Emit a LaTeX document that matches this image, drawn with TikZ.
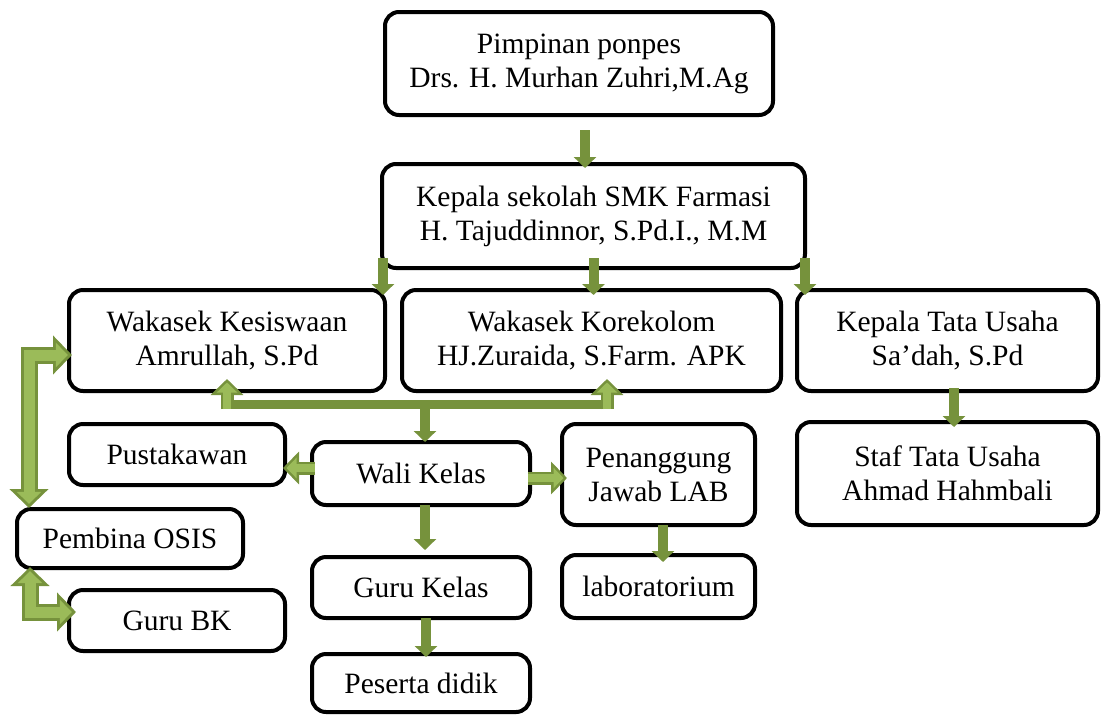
\documentclass[tikz,border=0pt]{standalone}
\usepackage{fontspec}
\setmainfont{Liberation Serif}
\usetikzlibrary{arrows.meta}
\definecolor{olive}{RGB}{118,146,60}
\definecolor{lightolive}{RGB}{155,187,89}

\begin{document}
\begin{tikzpicture}[
  x=1pt, y=-1pt,
  box/.style={draw, line width=4pt, rounded corners=14pt, align=center,
              inner sep=2pt, outer sep=0pt, font=\fontsize{29.5pt}{34pt}\selectfont},
  darr/.style={draw=olive, line width=10pt, -{Triangle[width=22pt,length=11pt]}},
  bar/.style={draw=olive, line width=9pt},
  lout/.style={draw=olive, line width=13pt, -{Triangle[width=32pt,length=16pt]}},
  lin/.style={draw=lightolive, line width=8pt, shorten >=3.5pt,
              -{Triangle[width=20pt,length=10pt]}},
  bentout/.style={draw=olive, line width=17pt,
                  {Triangle[width=38pt,length=19pt]}-{Triangle[width=38pt,length=19pt]}},
  bentin/.style={draw=lightolive, line width=11pt, shorten >=4.2pt, shorten <=4.2pt,
                 {Triangle[width=24pt,length=12pt]}-{Triangle[width=24pt,length=12pt]}}
]
  \useasboundingbox (0,0) rectangle (1105,716);

  % boxes
  \node[box, minimum width=388pt, minimum height=103pt] (pimp) at (579,63.5)
    {Pimpinan ponpes\\Drs. H. Murhan Zuhri,M.Ag};
  \node[box, minimum width=423pt, minimum height=104pt] (kepsek) at (593.5,216)
    {Kepala sekolah SMK Farmasi\\H. Tajuddinnor, S.Pd.I., M.M};
  \node[box, minimum width=316pt, minimum height=101pt] (kesis) at (227,340.5)
    {Wakasek Kesiswaan\\Amrullah, S.Pd};
  \node[box, minimum width=379pt, minimum height=101pt] (kurik) at (591.5,340.5)
    {Wakasek Korekolom\\HJ.Zuraida, S.Farm. APK};
  \node[box, minimum width=301pt, minimum height=101pt] (ktu) at (947.5,340.5)
    {Kepala Tata Usaha\\Sa’dah, S.Pd};
  \node[box, minimum width=216pt, minimum height=61pt] (pustak) at (177,454.5) {Pustakawan};
  \node[box, minimum width=218pt, minimum height=63pt] (wali) at (421,473.5) {Wali Kelas};
  \node[box, minimum width=193pt, minimum height=101pt] (pjlab) at (658.5,474.5)
    {Penanggung\\Jawab LAB};
  \node[box, minimum width=301pt, minimum height=103pt] (staf) at (947.5,473.5)
    {Staf Tata Usaha\\Ahmad Hahmbali};
  \node[box, minimum width=226pt, minimum height=59pt] (osis) at (130,538.5) {Pembina OSIS};
  \node[box, minimum width=218pt, minimum height=61pt] (guru) at (421,587.5) {Guru Kelas};
  \node[box, minimum width=193pt, minimum height=63pt] (lab) at (658.5,586.5) {laboratorium};
  \node[box, minimum width=216pt, minimum height=61pt] (gurubk) at (177,620.5) {Guru BK};
  \node[box, minimum width=218pt, minimum height=58pt] (peserta) at (421,683) {Peserta didik};

  % plain arrows
  \draw[darr] ([xshift=6pt,yshift=-15pt]pimp.south) -- ([xshift=-8.5pt,yshift=-4pt]kepsek.north);
  \draw[darr] ([xshift=1pt,yshift=10pt]kepsek.south west) -- ([xshift=-2pt,yshift=-5pt]kesis.north east);
  \draw[darr] ([yshift=10pt]kepsek.south) -- ([xshift=2pt,yshift=-5pt]kurik.north);
  \draw[darr] ([yshift=10pt]kepsek.south east) -- ([xshift=8pt,yshift=-5pt]ktu.north west);
  \draw[darr] ([xshift=6.5pt,yshift=3pt]ktu.south) -- ([xshift=6.5pt,yshift=-5pt]staf.north);
  \draw[darr] ([xshift=4.5pt]pjlab.south) -- ([xshift=4.5pt,yshift=-7pt]lab.north);
  \draw[darr] ([xshift=4pt]wali.south) -- ([xshift=4pt,yshift=7pt]guru.north);
  \draw[darr] ([xshift=5pt]guru.south) -- ([xshift=5pt,yshift=-3pt]peserta.north);

  % bar under the wakasek row
  \draw[bar] ([yshift=-13pt]kesis.south) -- ([xshift=15.5pt,yshift=-13pt]kurik.south);
  \draw[darr] ([xshift=4pt,yshift=38pt]wali.north) -- ([xshift=4pt]wali.north);
  \draw[lout] ([yshift=-18pt]kesis.south) -- ([yshift=12pt]kesis.south);
  \draw[lin] ([yshift=-18pt]kesis.south) -- ([yshift=12pt]kesis.south);
  \draw[lout] ([xshift=15.5pt,yshift=-18pt]kurik.south) -- ([xshift=15.5pt,yshift=12pt]kurik.south);
  \draw[lin] ([xshift=15.5pt,yshift=-18pt]kurik.south) -- ([xshift=15.5pt,yshift=12pt]kurik.south);

  % wali kelas sideways
  \draw[lout] ([xshift=3pt,yshift=5.5pt]wali.west) -- ([xshift=-2pt,yshift=-13.5pt]pustak.east);
  \draw[lin] ([xshift=3pt,yshift=5.5pt]wali.west) -- ([xshift=-2pt,yshift=-13.5pt]pustak.east);
  \draw[lout] ([xshift=-2pt,yshift=-4.5pt]wali.east) -- ([xshift=5pt,yshift=-3.5pt]pjlab.west);
  \draw[lin] ([xshift=-2pt,yshift=-4.5pt]wali.east) -- ([xshift=5pt,yshift=-3.5pt]pjlab.west);

  % osis links
  \draw[bentout] ([xshift=12pt,yshift=1pt]osis.north west) |- ([xshift=3pt,yshift=-14.5pt]kesis.west);
  \draw[bentin] ([xshift=12pt,yshift=1pt]osis.north west) |- ([xshift=3pt,yshift=-14.5pt]kesis.west);
  \draw[bentout] ([xshift=13pt,yshift=1pt]osis.south west) |- ([xshift=7pt,yshift=8.5pt]gurubk.west);
  \draw[bentin] ([xshift=13pt,yshift=1pt]osis.south west) |- ([xshift=7pt,yshift=8.5pt]gurubk.west);
\end{tikzpicture}
\end{document}
